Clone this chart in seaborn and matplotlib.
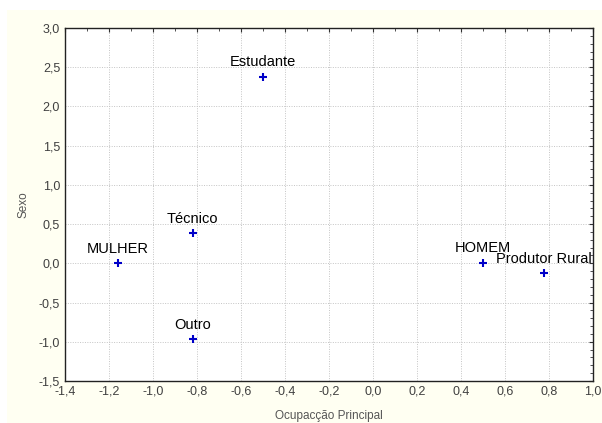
import matplotlib
matplotlib.use("Agg")
import matplotlib.pyplot as plt
import matplotlib.ticker as mticker
from matplotlib.patches import Rectangle
import seaborn as sns
import pandas as pd

labels = ["MULHER", "HOMEM", "Estudante", "Técnico", "Outro", "Produtor Rural"]
x_vals = [-1.16, 0.50, -0.50, -0.82, -0.82, 0.775]
y_vals = [0.005, 0.01, 2.38, 0.39, -0.965, -0.125]

x_label = "Ocupacção Principal"
y_label = "Sexo"

df = pd.DataFrame({"x": x_vals, "y": y_vals, "label": labels})

sns.set_style("white")
plt.rcParams["font.family"] = ["Liberation Sans", "DejaVu Sans"]

fig = plt.figure(figsize=(6.02, 4.23), dpi=100)
fig.patch.set_facecolor("white")
fig.patches.append(Rectangle((7 / 602, 0), 1, 1 - 10 / 423, transform=fig.transFigure,
                             facecolor="#fffff2", edgecolor="none", zorder=-10))

ax = fig.add_axes([65 / 602, 1 - 381 / 423, (593 - 65) / 602, (381 - 28) / 423])
ax.set_facecolor("white")

sns.scatterplot(data=df, x="x", y="y", marker="+", color="#0000c8", s=28,
                linewidth=1.5, ax=ax, zorder=3)

for lab, xv, yv in zip(labels, x_vals, y_vals):
    ax.annotate(lab, (xv, yv), xytext=(0, 7.3), textcoords="offset points",
                ha="center", va="baseline", fontsize=10.5, color="black", zorder=4)

ax.set_xlim(-1.4, 1.0)
ax.set_ylim(-1.5, 3.0)
ax.xaxis.set_major_locator(mticker.MultipleLocator(0.2))
ax.yaxis.set_major_locator(mticker.MultipleLocator(0.5))
ax.xaxis.set_minor_locator(mticker.MultipleLocator(0.1))
ax.yaxis.set_minor_locator(mticker.MultipleLocator(0.1))
fmt = mticker.FuncFormatter(lambda v, p: f"{v:.1f}".replace(".", ",").replace("-0,0", "0,0"))
ax.xaxis.set_major_formatter(fmt)
ax.yaxis.set_major_formatter(fmt)

ax.grid(True, which="major", color="#c4c4c4", linestyle=(0, (1, 1.5)), linewidth=0.7)
ax.tick_params(which="both", direction="in", top=True, right=True, color="#333333",
               labelsize=9, labelcolor="#404040")
ax.tick_params(which="major", length=3, width=0.8)
ax.tick_params(which="minor", length=2, width=0.6)
for s in ax.spines.values():
    s.set_color("#222222")
    s.set_linewidth(1.0)
    s.set_visible(True)

ax.set_xlabel(x_label, fontsize=8.5, color="#555555", labelpad=9)
ax.set_ylabel(y_label, fontsize=8.5, color="#555555", labelpad=7)

fig.savefig("out.png", dpi=100, facecolor=fig.get_facecolor())
